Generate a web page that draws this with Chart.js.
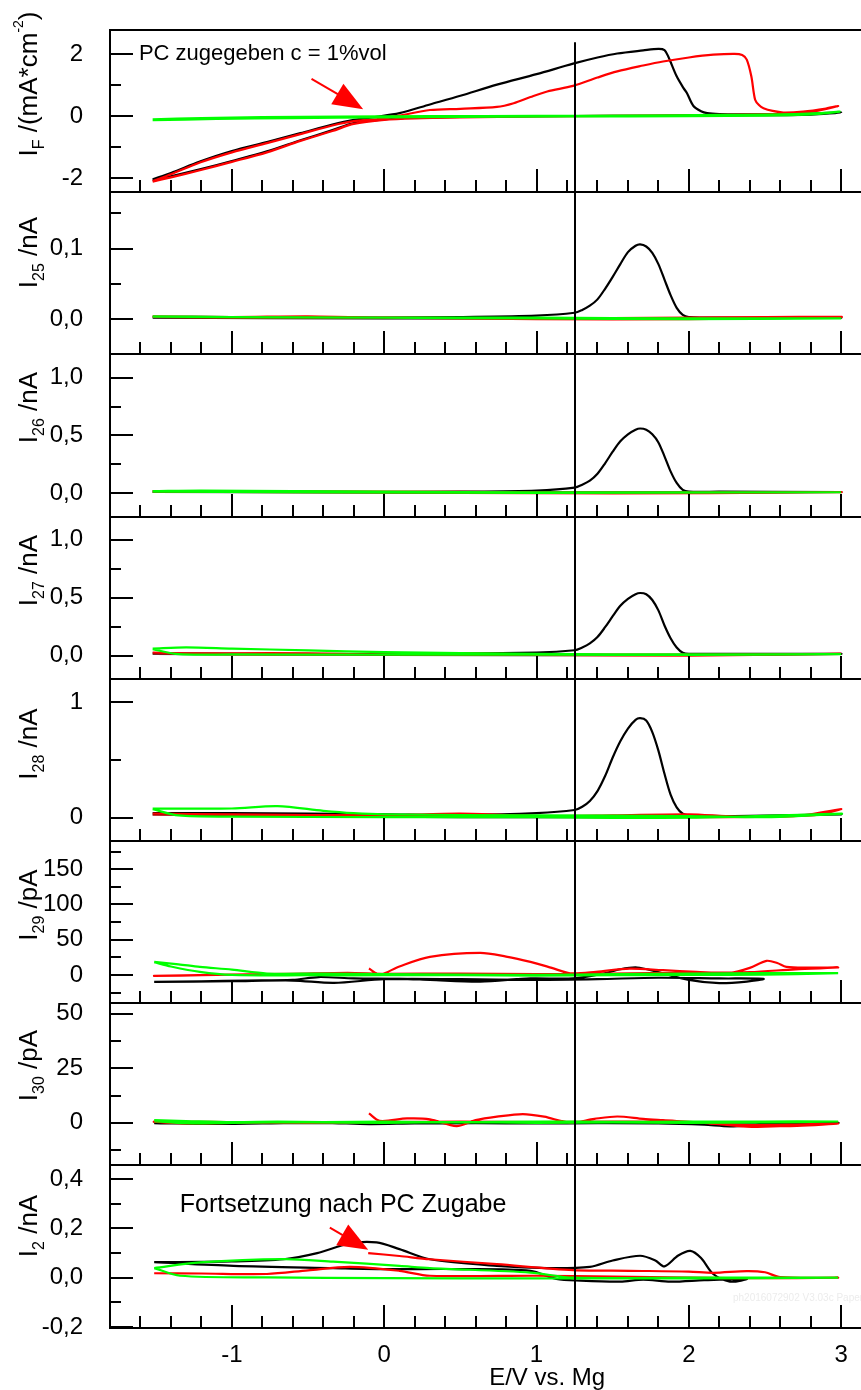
<!DOCTYPE html>
<html><head><meta charset="utf-8">
<script src="https://cdn.jsdelivr.net/npm/chart.js@4.4.1/dist/chart.umd.min.js"></script>
<style>html,body{margin:0;padding:0;background:#fff;}#wrap{position:relative;width:861px;height:1390px;}</style>
</head><body><div id="wrap"><canvas id="c" width="861" height="1390"></canvas></div>
<script>
// ---------- x axis ----------
const xMajor = [-1, 0, 1, 2, 3];
const xMinor = [-1.6,-1.4,-1.2,-0.8,-0.6,-0.4,-0.2,0.2,0.4,0.6,0.8,1.2,1.4,1.6,1.8,2.2,2.4,2.6,2.8];
const vLineX = 1.25;

// ---------- panel 1: I_F / (mA cm^-2) ----------
const IF_black = [[-1.52,-2.04],[-1.4,-1.84],[-1.21,-1.47],[-1.0,-1.13],[-0.77,-0.84],[-0.55,-0.55],[-0.34,-0.27],[-0.2,-0.12],[-0.05,-0.02],[0.1,0.1],[0.3,0.38],[0.5,0.66],[0.74,1.02],[1.0,1.36],[1.24,1.7],[1.4,1.9],[1.53,2.03],[1.7,2.13],[1.8,2.18],[1.84,2.14],[1.864,1.94],[1.92,1.29],[1.965,0.91],[1.987,0.75],[2.03,0.33],[2.08,0.16],[2.12,0.1],[2.2,0.07],[2.34,0.06],[2.6,0.06],[2.8,0.08],[3.0,0.12],[2.8,0.05],[2.4,0.03],[2.0,0.02],[1.5,0.01],[1.0,0.0],[0.5,-0.02],[0.2,-0.05],[0,-0.1],[-0.2,-0.22],[-0.34,-0.45],[-0.55,-0.78],[-0.77,-1.14],[-1.0,-1.45],[-1.21,-1.72],[-1.4,-1.95],[-1.52,-2.08]];
const IF_red = [[-1.52,-2.1],[-1.4,-1.88],[-1.21,-1.5],[-1.0,-1.17],[-0.77,-0.87],[-0.55,-0.58],[-0.34,-0.3],[-0.2,-0.16],[-0.05,-0.1],[0.1,0.02],[0.3,0.2],[0.5,0.24],[0.74,0.3],[0.85,0.42],[0.96,0.62],[1.07,0.8],[1.24,0.98],[1.4,1.25],[1.53,1.45],[1.7,1.64],[1.83,1.77],[2.0,1.9],[2.16,1.99],[2.3,2.02],[2.35,1.98],[2.38,1.83],[2.41,1.29],[2.435,0.53],[2.46,0.36],[2.49,0.26],[2.55,0.17],[2.62,0.12],[2.75,0.15],[2.9,0.25],[2.98,0.33],[2.85,0.18],[2.7,0.1],[2.5,0.06],[2.0,0.03],[1.5,0.01],[1.0,-0.01],[0.5,-0.04],[0.2,-0.07],[0,-0.12],[-0.2,-0.25],[-0.34,-0.48],[-0.55,-0.8],[-0.77,-1.17],[-1.0,-1.48],[-1.21,-1.75],[-1.4,-1.98],[-1.52,-2.12]];
const IF_green = [[-1.52,-0.1],[-1.2,-0.06],[-0.8,-0.03],[-0.3,-0.01],[0.3,0.0],[1.0,0.01],[1.6,0.02],[2.2,0.04],[2.5,0.05],[2.7,0.07],[2.85,0.1],[2.99,0.15],[2.8,0.06],[2.5,0.02],[2.0,0.0],[1.2,-0.01],[0.5,-0.02],[0,-0.04],[-0.6,-0.06],[-1.1,-0.09],[-1.52,-0.13]];

// ---------- panel 2: I_25 / nA ----------
const I25_black = [[-1.52,0.003],[-1.0,0.003],[0,0.002],[0.5,0.003],[1.0,0.005],[1.25,0.009],[1.3,0.013],[1.35,0.019],[1.4,0.028],[1.45,0.043],[1.5,0.06],[1.55,0.078],[1.6,0.095],[1.65,0.104],[1.68,0.106],[1.72,0.103],[1.76,0.094],[1.8,0.078],[1.84,0.056],[1.88,0.034],[1.92,0.016],[1.96,0.006],[2.0,0.003],[2.2,0.002],[3.0,0.002],[2.0,0.001],[1.0,0.001],[0,0.001],[-1.52,0.002]];
const I25_red = [[-1.52,0.004],[-1.0,0.003],[-0.5,0.004],[0,0.002],[1.0,0.001],[2.0,0.002],[2.5,0.003],[3.0,0.003],[2.0,0.0],[1.0,0.0],[0,0.002],[-1.0,0.002],[-1.52,0.003]];
const I25_green = [[-1.52,0.004],[-1.0,0.003],[0,0.002],[1.0,0.002],[2.0,0.001],[3.0,0.001],[2.0,0.0],[1.0,0.001],[0,0.002],[-1.52,0.003]];

// ---------- panel 3: I_26 / nA ----------
const I26_black = [[-1.52,0.015],[0,0.012],[0.5,0.015],[1.0,0.025],[1.25,0.05],[1.3,0.075],[1.35,0.11],[1.4,0.17],[1.45,0.26],[1.5,0.36],[1.55,0.45],[1.6,0.51],[1.65,0.55],[1.68,0.56],[1.72,0.55],[1.76,0.51],[1.8,0.44],[1.84,0.32],[1.88,0.19],[1.92,0.09],[1.96,0.03],[2.0,0.015],[2.2,0.015],[3.0,0.012],[2.0,0.008],[0,0.008],[-1.52,0.012]];
const I26_red = [[-1.52,0.02],[-1.0,0.02],[0,0.015],[1.0,0.01],[2.0,0.008],[3.0,0.01],[1.5,0.0],[0.5,0.005],[-1.52,0.015]];
const I26_green = [[-1.52,0.02],[-1.2,0.025],[0,0.015],[1.0,0.01],[3.0,0.01],[1.0,0.005],[-1.52,0.015]];

// ---------- panel 4: I_27 / nA ----------
const I27_black = [[-1.52,0.02],[0,0.012],[1.0,0.025],[1.25,0.046],[1.3,0.07],[1.35,0.105],[1.4,0.16],[1.45,0.245],[1.5,0.34],[1.55,0.43],[1.6,0.49],[1.65,0.53],[1.68,0.54],[1.72,0.53],[1.76,0.48],[1.8,0.39],[1.84,0.26],[1.88,0.15],[1.92,0.07],[1.96,0.025],[2.0,0.015],[2.3,0.015],[3.0,0.015],[2.0,0.005],[0,0.005],[-1.52,0.015]];
const I27_red = [[-1.52,0.025],[-1.3,0.02],[-1.0,0.02],[-0.5,0.02],[0,0.01],[0.5,0.02],[1.0,0.01],[2.0,0.008],[3.0,0.015],[2.0,0.0],[1.0,0.005],[0,0.008],[-1.0,0.01],[-1.52,0.02]];
const I27_green = [[-1.52,0.06],[-1.3,0.07],[-1.0,0.06],[-0.5,0.045],[0,0.03],[1.0,0.015],[2.0,0.01],[3.0,0.012],[2.0,0.005],[1.0,0.008],[0,0.008],[-1.0,0.01],[-1.35,0.012],[-1.52,0.055]];

// ---------- panel 5: I_28 / nA ----------
const I28_black = [[-1.52,0.04],[-1.0,0.04],[0,0.03],[0.5,0.025],[1.0,0.04],[1.25,0.067],[1.3,0.095],[1.35,0.145],[1.4,0.23],[1.45,0.36],[1.5,0.52],[1.55,0.66],[1.6,0.77],[1.65,0.845],[1.68,0.86],[1.72,0.84],[1.76,0.74],[1.8,0.58],[1.84,0.38],[1.88,0.2],[1.92,0.09],[1.96,0.035],[2.0,0.02],[2.3,0.015],[3.0,0.03],[2.0,0.01],[1.0,0.005],[0,0.01],[-1.52,0.03]];
const I28_red = [[-1.52,0.035],[-1.0,0.03],[0,0.02],[0.5,0.035],[1.0,0.015],[1.5,0.02],[2.0,0.03],[2.3,0.01],[2.7,0.015],[3.0,0.075],[2.8,0.02],[2.0,0.005],[1.0,0.01],[0,0.02],[-1.52,0.03]];
const I28_green = [[-1.52,0.08],[-1.0,0.08],[-0.7,0.1],[-0.4,0.06],[-0.2,0.04],[0,0.03],[1.0,0.02],[2.0,0.015],[2.5,0.005],[2.8,0.02],[3.0,0.035],[2.0,0.0],[1.0,0.005],[0,0.005],[-1.0,0.01],[-1.35,0.02],[-1.52,0.075]];

// ---------- panel 6: I_29 / pA ----------
const I29_black = [[-1.51,-9.9],[-1.2,-9],[-0.9,-8],[-0.6,-7],[-0.43,-3],[-0.2,-5],[0.1,-5.5],[0.3,-7],[0.63,-9.4],[0.96,-5],[1.24,-5],[1.44,2],[1.55,8],[1.66,10.5],[1.79,4.4],[2.0,-7],[2.2,-11.7],[2.38,-9.4],[2.49,-5.6],[2.2,-5],[1.8,-4],[1.4,-6],[1.0,-7],[0.5,-6],[0.0,-6],[-0.33,-11.3],[-0.6,-8],[-1.0,-9],[-1.51,-10]];
const I29_red = [[-0.1,9],[-0.03,0.5],[0.1,12],[0.3,25.5],[0.63,31.2],[0.8,26],[0.96,18.5],[1.1,10],[1.22,2.4],[1.39,4.3],[1.61,9],[1.83,6.7],[2.05,4.4],[2.27,3],[2.4,10],[2.51,20],[2.58,17],[2.64,11.5],[2.8,10.5],[2.98,10.5],[2.7,8],[2.4,4],[2.0,3],[1.5,2],[1.0,1],[0.5,2],[0,1.5],[-0.24,2.9],[-0.6,1.5],[-1.0,0.5],[-1.51,-1.4],[-1.2,-0.5],[-0.8,1],[-0.4,2],[-0.15,2]];
const I29_green = [[-1.51,18.5],[-1.35,15],[-1.21,11.4],[-1.0,7.5],[-0.77,2],[-0.4,2],[0,1],[0.5,0.5],[1.0,0],[1.5,1],[2.0,2],[2.5,2.5],[2.98,2.5],[2.5,0.5],[2.0,0],[1.5,-0.5],[1.0,-1],[0.5,-0.5],[0,-0.5],[-0.5,-0.5],[-1.0,0],[-1.21,4.3],[-1.4,12],[-1.51,18]];

// ---------- panel 7: I_30 / pA ----------
const I30_black = [[-1.51,0],[-1.2,-0.5],[-0.8,-0.3],[-0.4,0],[-0.1,-0.6],[0.2,-0.3],[0.6,-0.2],[1.0,-0.3],[1.4,-0.2],[1.8,-0.3],[2.1,-0.9],[2.27,-1.6],[2.5,-0.8],[2.8,-0.3],[2.98,0],[2.5,0.2],[2.0,0],[1.5,0],[1.0,0.2],[0.5,0],[0,-0.2],[-0.5,0],[-1.0,0],[-1.51,-0.3]];
const I30_red = [[-0.1,4.3],[-0.03,0.9],[0.15,2],[0.3,1.6],[0.475,-1.5],[0.6,1.2],[0.74,2.8],[0.91,4.0],[1.05,2.8],[1.22,0.1],[1.38,1.8],[1.53,2.9],[1.7,1.8],[1.83,1.2],[2.1,0],[2.38,-1.8],[2.55,-1.6],[2.71,-1.4],[2.98,-0.3],[2.7,-0.8],[2.4,-1.0],[2.0,0.3],[1.5,0.5],[1.0,0.3],[0.5,0.5],[0,0.3],[-0.5,0],[-1.0,0.3],[-1.51,0.5],[-1.3,-0.3],[-0.8,0.2],[-0.4,0.3],[-0.15,0.2]];
const I30_green = [[-1.51,1.2],[-1.3,0.8],[-1.0,0.3],[-0.7,0.5],[-0.4,0.3],[0,0.5],[0.5,0.2],[1.0,0.6],[1.5,0.4],[2.0,0.5],[2.5,0.6],[2.98,0.6],[2.5,0.2],[2.0,0],[1.5,0.2],[1.0,0],[0.5,0.3],[0,0],[-0.5,0.2],[-1.0,0],[-1.3,-0.2],[-1.51,0.8]];

// ---------- panel 8: I_2 / nA ----------
const I2_black = [[-1.51,0.063],[-1.0,0.066],[-0.66,0.075],[-0.44,0.10],[-0.225,0.139],[-0.05,0.143],[0.1,0.116],[0.3,0.075],[0.74,0.048],[1.07,0.039],[1.35,0.044],[1.5,0.07],[1.68,0.089],[1.78,0.07],[1.84,0.046],[1.93,0.09],[2.01,0.109],[2.08,0.08],[2.16,0.015],[2.27,-0.016],[2.38,-0.005],[2.1,-0.01],[1.88,-0.016],[1.7,-0.008],[1.55,-0.016],[1.29,-0.012],[1.13,-0.005],[0.96,0.028],[0.5,0.035],[0,0.035],[-0.335,0.039],[-0.99,0.048],[-1.51,0.063]];
const I2_red = [[-0.105,0.10],[0.1,0.088],[0.3,0.075],[0.74,0.055],[1.24,0.031],[1.61,0.028],[2.0,0.025],[2.16,0.02],[2.38,0.027],[2.5,0.022],[2.6,0.002],[2.98,0.0],[2.5,-0.002],[2.0,0.0],[1.5,0.005],[1.0,0.008],[0.3,0.008],[0.1,0.028],[-0.225,0.044],[-0.5,0.03],[-0.77,0.015],[-1.2,0.017],[-1.51,0.018]];
const I2_green = [[-1.51,0.039],[-1.21,0.062],[-0.66,0.075],[-0.335,0.065],[0.1,0.048],[0.3,0.039],[0.96,0.021],[1.24,0.0],[2.0,0.0],[2.98,0.0],[2.0,-0.003],[1.0,-0.003],[0,-0.002],[-0.77,0.001],[-1.34,0.008],[-1.51,0.039]];

// ---------- y-axis tick values ----------
const IF_ticks = [-2, 0, 2],        IF_minor = [-1, 1];
const I25_ticks = [0, 0.1],         I25_minor = [0.05, 0.15];
const I26_ticks = [0, 0.5, 1.0],    I26_minor = [0.25, 0.75];
const I27_ticks = [0, 0.5, 1.0],    I27_minor = [0.25, 0.75];
const I28_ticks = [0, 1],           I28_minor = [0.5];
const I29_ticks = [0, 50, 100, 150],I29_minor = [-25, 25, 75, 125, 175];
const I30_ticks = [0, 25, 50],      I30_minor = [-12.5, 12.5, 37.5];
const I2_ticks = [-0.2, 0, 0.2, 0.4], I2_minor = [-0.1, 0.1, 0.3];

// ---------- annotations ----------
const noteTop = {text: 'PC zugegeben c = 1%vol', x: -1.61, y: 1.83};
const noteBottom = {text: 'Fortsetzung nach PC Zugabe', x: -1.342, y: 0.267};
const arrowTop = {from: [-0.477, 1.21], to: [-0.138, 0.227]};
const arrowBottom = {from: [-0.357, 0.203], to: [-0.105, 0.113]};

const FONT = "'Liberation Sans', Arial, Helvetica, sans-serif";
const fmtComma = v => v.toFixed(1).replace('.', ',');
const fmtInt = v => String(Math.round(v));

const panels = [
  {id:'y1', min:-2.46, max:2.79, major:IF_ticks, minor:IF_minor, fmt:fmtInt, titleY:84,
   title:[['I','n'],['F','sub'],[' /(mA*cm','n'],['-2','sup'],[')','n']], s:[IF_black, IF_red, IF_green]},
  {id:'y2', min:-0.05, max:0.18, major:I25_ticks, minor:I25_minor, fmt:fmtComma, titleY:252.5,
   title:[['I','n'],['25','sub'],[' /nA','n']], s:[I25_black, I25_red, I25_green]},
  {id:'y3', min:-0.2, max:1.2, major:I26_ticks, minor:I26_minor, fmt:fmtComma, titleY:407.5,
   title:[['I','n'],['26','sub'],[' /nA','n']], s:[I26_black, I26_red, I26_green]},
  {id:'y4', min:-0.2, max:1.2, major:I27_ticks, minor:I27_minor, fmt:fmtComma, titleY:570.5,
   title:[['I','n'],['27','sub'],[' /nA','n']], s:[I27_black, I27_red, I27_green]},
  {id:'y5', min:-0.2, max:1.2, major:I28_ticks, minor:I28_minor, fmt:fmtInt, titleY:744,
   title:[['I','n'],['28','sub'],[' /nA','n']], s:[I28_black, I28_red, I28_green]},
  {id:'y6', min:-40, max:190, major:I29_ticks, minor:I29_minor, fmt:fmtInt, titleY:905,
   title:[['I','n'],['29','sub'],[' /pA','n']], s:[I29_black, I29_red, I29_green]},
  {id:'y7', min:-19.5, max:54.9, major:I30_ticks, minor:I30_minor, fmt:fmtInt, titleY:1065.5,
   title:[['I','n'],['30','sub'],[' /pA','n']], s:[I30_black, I30_red, I30_green]},
  {id:'y8', min:-0.202, max:0.456, major:I2_ticks, minor:I2_minor, fmt:fmtComma, titleY:1226,
   title:[['I','n'],['2','sub'],[' /nA','n']], s:[I2_black, I2_red, I2_green]}
];

const COLORS = ['#000000', '#ff0000', '#00ff00'];
const ORDER = [2, 1, 0];
const datasets = [];
panels.forEach(p => {
  p.s.forEach((arr, k) => {
    datasets.push({
      data: arr.map(([x, y]) => ({x, y})),
      xAxisID: 'x', yAxisID: p.id, showLine: true,
      borderColor: COLORS[k], backgroundColor: COLORS[k],
      borderWidth: 2.2, pointRadius: 0, pointHoverRadius: 0,
      tension: 0.3, order: ORDER[k]
    });
  });
});

const scales = {
  x: {
    type: 'linear', position: 'bottom', min: -1.8, max: 3.13,
    grid: {display: false, drawTicks: false}, border: {display: false},
    ticks: {font: {family: FONT, size: 24}, color: '#000', padding: 13, maxRotation: 0, autoSkip: false,
            callback: v => String(v)},
    afterBuildTicks: s => { s.ticks = xMajor.map(v => ({value: v})); },
    afterFit: s => { s.height = 62.5; s.paddingLeft = 0; s.paddingRight = 0; }
  }
};
panels.forEach((p, i) => {
  scales[p.id] = {
    type: 'linear', position: 'left', stack: 'panels', stackWeight: 1, weight: panels.length - i,
    min: p.min, max: p.max,
    grid: {display: false, drawTicks: false}, border: {display: false},
    ticks: {font: {family: FONT, size: 24}, color: '#000', padding: 27, autoSkip: false,
            callback: v => p.fmt(v)},
    afterBuildTicks: s => { s.ticks = p.major.map(v => ({value: v})); },
    afterFit: s => { s.width = 110; s.paddingTop = 0; s.paddingBottom = 0; }
  };
});

const decor = {
  id: 'decor',
  afterDraw(chart) {
    const ctx = chart.ctx, ca = chart.chartArea, xs = chart.scales.x;
    const R = v => Math.round(v);
    const line = (x1, y1, x2, y2) => { ctx.beginPath(); ctx.moveTo(x1, y1); ctx.lineTo(x2, y2); ctx.stroke(); };
    ctx.save();
    ctx.strokeStyle = '#000'; ctx.lineWidth = 2; ctx.lineCap = 'butt';
    line(R(ca.left), R(ca.top) - 1, R(ca.left), R(ca.bottom) + 1);
    panels.forEach(p => {
      const ys = chart.scales[p.id];
      line(R(ca.left) - 1, R(ys.top), ca.right, R(ys.top));
      line(R(ca.left) - 1, R(ys.bottom), ca.right, R(ys.bottom));
      p.major.forEach(v => { const py = R(ys.getPixelForValue(v)); line(ca.left, py, ca.left + 23, py); });
      p.minor.forEach(v => { const py = R(ys.getPixelForValue(v)); line(ca.left, py, ca.left + 11, py); });
      xMinor.forEach(v => { const px = R(xs.getPixelForValue(v)); line(px, R(ys.bottom), px, R(ys.bottom) - 12); });
      xMajor.forEach(v => { const px = R(xs.getPixelForValue(v)); line(px, R(ys.bottom), px, R(ys.bottom) - 23); });
    });
    // vertical marker line
    const y1 = chart.scales.y1, y8 = chart.scales.y8;
    const vx = R(xs.getPixelForValue(vLineX));
    line(vx, y1.getPixelForValue(2.39), vx, R(ca.bottom));

    // y titles
    ctx.fillStyle = '#000';
    const fontFor = k => (k === 'n' ? '26px ' : (k === 'sup' ? '14px ' : '16px ')) + FONT;
    panels.forEach(p => {
      let total = 0;
      p.title.forEach(([t, k]) => { ctx.font = fontFor(k); total += ctx.measureText(t).width; });
      ctx.save();
      ctx.translate(37, p.titleY);
      ctx.rotate(-Math.PI / 2);
      ctx.textAlign = 'left'; ctx.textBaseline = 'alphabetic';
      let x = -total / 2;
      p.title.forEach(([t, k]) => {
        ctx.font = fontFor(k);
        const dy = k === 'sub' ? 7 : (k === 'sup' ? -14 : 0);
        ctx.fillText(t, x, dy);
        x += ctx.measureText(t).width;
      });
      ctx.restore();
    });

    // notes
    ctx.textAlign = 'left'; ctx.textBaseline = 'alphabetic';
    ctx.font = '22px ' + FONT;
    ctx.fillText(noteTop.text, xs.getPixelForValue(noteTop.x), y1.getPixelForValue(noteTop.y));
    ctx.font = '25px ' + FONT;
    ctx.fillText(noteBottom.text, xs.getPixelForValue(noteBottom.x), y8.getPixelForValue(noteBottom.y));

    // x title
    ctx.font = '24px ' + FONT; ctx.textAlign = 'center';
    ctx.fillText('E/V vs. Mg', xs.getPixelForValue(1.07), 1385);

    // watermark
    ctx.font = '10px ' + FONT; ctx.textAlign = 'left'; ctx.fillStyle = '#ececec';
    ctx.fillText('ph2016072902 V3.03c Paper', 733, 1301);

    // arrows
    const arrow = (ys, a) => {
      const x1 = xs.getPixelForValue(a.from[0]), yA = ys.getPixelForValue(a.from[1]);
      const x2 = xs.getPixelForValue(a.to[0]), yB = ys.getPixelForValue(a.to[1]);
      const ang = Math.atan2(yB - yA, x2 - x1), L = 30, W = 12;
      const bx = x2 - L * Math.cos(ang), by = yB - L * Math.sin(ang);
      ctx.strokeStyle = '#ff0000'; ctx.fillStyle = '#ff0000'; ctx.lineWidth = 2;
      line(x1, yA, bx + 2 * Math.cos(ang), by + 2 * Math.sin(ang));
      ctx.beginPath();
      ctx.moveTo(x2, yB);
      ctx.lineTo(bx + W * Math.sin(ang), by - W * Math.cos(ang));
      ctx.lineTo(bx - W * Math.sin(ang), by + W * Math.cos(ang));
      ctx.closePath(); ctx.fill();
    };
    arrow(y1, arrowTop);
    arrow(y8, arrowBottom);
    ctx.restore();
  }
};

new Chart(document.getElementById('c'), {
  type: 'scatter',
  data: {datasets},
  options: {
    responsive: false, animation: false, devicePixelRatio: 1, events: [],
    layout: {padding: {top: 30, left: 0, right: 0, bottom: 0}},
    plugins: {legend: {display: false}, tooltip: {enabled: false}, title: {display: false}},
    scales
  },
  plugins: [decor]
});
</script></body></html>
